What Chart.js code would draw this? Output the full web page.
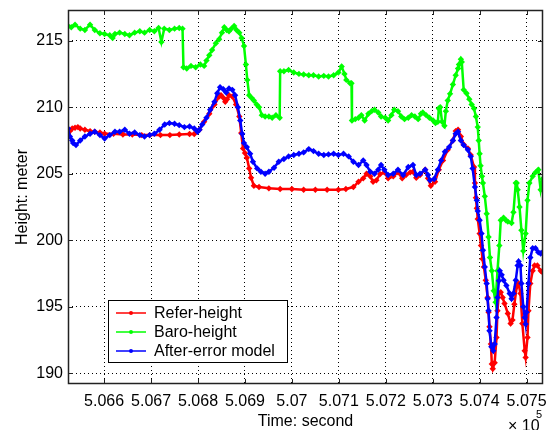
<!DOCTYPE html>
<html>
<head>
<meta charset="utf-8">
<script src="https://cdn.jsdelivr.net/npm/chart.js@4.4.0/dist/chart.umd.min.js"></script>
<style>
  html, body { margin: 0; padding: 0; background: #fff; }
  #wrap { width: 547px; height: 430px; }
</style>
</head>
<body>
<div id="wrap"><canvas id="c" width="547" height="430"></canvas></div>
<script>
/* ===== Dados (tempo em segundos, altura em metros) ===== */

const seriesNames = ['Refer-height', 'Baro-height', 'After-error model'];

const xTicks = [506600, 506700, 506800, 506900, 507000, 507100, 507200, 507300, 507400, 507500];
const xTickLabels = ['5.066', '5.067', '5.068', '5.069', '5.07', '5.071', '5.072', '5.073', '5.074', '5.075'];
const yTicks = [190, 195, 200, 205, 210, 215];

const referTime = [
  506523, 506527, 506532, 506538, 506544, 506549, 506559, 506570, 506580, 506591,
  506601, 506620, 506640, 506660, 506680, 506697, 506720, 506740, 506760, 506782,
  506792, 506803, 506813, 506824, 506835, 506845, 506849, 506854, 506858, 506862,
  506866, 506873, 506881, 506888, 506892, 506896, 506900, 506904, 506909, 506913,
  506919, 506930, 506951, 506975, 507000, 507025, 507050, 507075, 507099, 507115,
  507131, 507142, 507152, 507159, 507167, 507173, 507180, 507188, 507197, 507205,
  507216, 507226, 507235, 507243, 507252, 507258, 507265, 507273, 507284, 507290,
  507296, 507305, 507313, 507322, 507332, 507343, 507349, 507354, 507360, 507366,
  507375, 507381, 507388, 507390, 507392, 507394, 507396, 507400, 507403, 507406,
  507409, 507413, 507417, 507419, 507421, 507424, 507426, 507428, 507432, 507436,
  507438, 507441, 507445, 507449, 507453, 507460, 507466, 507470, 507474, 507479,
  507483, 507487, 507491, 507496, 507498, 507502, 507504, 507508, 507513, 507517,
  507523, 507530, 507534
];
const referHeight = [
  208.0, 208.2, 208.4, 208.45, 208.5, 208.4, 208.3, 208.2, 208.15, 208.1,
  208.0, 208.0, 207.95, 207.95, 207.9, 207.9, 207.9, 207.9, 207.95, 207.98,
  207.98, 208.3, 208.9, 209.5, 210.2, 210.8, 210.9, 210.7, 210.4, 210.6,
  210.9, 210.8, 210.2, 209.3, 208.05, 206.9, 206.55, 206.2, 205.4, 204.7,
  204.1, 204.0, 203.9, 203.85, 203.85, 203.8, 203.8, 203.8, 203.8, 203.85,
  204.0, 204.4, 204.65, 205.0, 204.8, 204.4, 204.5, 204.97, 205.1, 204.65,
  204.8, 205.1, 204.65, 204.9, 205.1, 205.15, 204.7, 204.9, 205.3, 204.65,
  204.1, 204.4, 205.3, 206.0, 206.8, 207.5, 208.2, 208.3, 207.8, 207.2,
  206.9, 206.4, 205.5, 204.3, 203.2, 202.4, 201.6, 200.5, 199.6, 198.6,
  198.0, 197.0, 195.7, 194.6, 193.5, 192.2, 190.7, 190.35, 190.8, 192.7,
  194.7, 196.0, 196.1, 195.7, 195.25, 194.5, 193.75, 194.0, 195.2, 196.5,
  196.75, 196.0, 193.75, 191.7, 191.2, 192.7, 194.7, 196.75, 197.7, 198.1,
  198.1, 197.7, 197.6
];

const baroTime = [
  506523, 506530, 506538, 506549, 506559, 506570, 506580, 506591, 506601, 506612,
  506618, 506623, 506633, 506644, 506654, 506665, 506676, 506686, 506697, 506707,
  506716, 506722, 506728, 506739, 506750, 506760, 506767, 506769, 506776, 506785,
  506795, 506805, 506813, 506818, 506824, 506830, 506838, 506845, 506851, 506856,
  506861, 506866, 506871, 506877, 506882, 506888, 506893, 506898, 506902, 506905,
  506909, 506914, 506919, 506925, 506930, 506936, 506943, 506951, 506958, 506966,
  506974, 506975, 506983, 506993, 507004, 507015, 507025, 507036, 507046, 507057,
  507068, 507078, 507089, 507099, 507106, 507112, 507116, 507124, 507127, 507128,
  507135, 507142, 507148, 507155, 507163, 507170, 507176, 507184, 507190, 507199,
  507205, 507212, 507218, 507226, 507233, 507240, 507248, 507255, 507262, 507269,
  507275, 507279, 507286, 507293, 507301, 507306, 507311, 507313, 507316, 507320,
  507325, 507328, 507332, 507337, 507343, 507349, 507354, 507356, 507360, 507362,
  507366, 507372, 507378, 507383, 507388, 507392, 507396, 507398, 507400, 507402,
  507405, 507407, 507411, 507415, 507419, 507422, 507426, 507430, 507434, 507438,
  507442, 507445, 507451, 507456, 507460, 507468, 507472, 507477, 507479, 507481,
  507485, 507489, 507493, 507498, 507502, 507506, 507513, 507519, 507525, 507530,
  507534
];
const baroHeight = [
  216.1, 216.0, 216.2, 215.9, 215.8, 216.2, 215.8, 215.55, 215.5, 215.4,
  215.2, 215.5, 215.6, 215.5, 215.4, 215.6, 215.7, 215.6, 215.8, 215.7,
  215.95, 214.9, 215.9, 215.8, 215.9, 215.95, 215.9, 213.0, 212.9, 213.1,
  213.0, 213.2, 213.1, 213.5, 213.9, 214.3, 214.8, 215.1, 215.6, 216.0,
  215.8, 215.7, 215.9, 216.1, 215.8, 215.6, 215.2, 214.6, 213.2, 212.05,
  210.9, 210.7, 210.5, 210.2, 210.0, 209.4, 209.3, 209.3, 209.2, 209.4,
  209.2, 212.7, 212.7, 212.8, 212.6, 212.5, 212.45, 212.4, 212.4, 212.3,
  212.35, 212.3, 212.4, 212.6, 213.05, 212.5, 212.05, 211.8, 211.8, 209.0,
  209.1, 209.2, 209.4, 209.0, 209.5, 209.7, 209.8, 209.6, 209.3, 209.2,
  209.0, 209.4, 209.8, 209.7, 209.3, 209.1, 209.2, 209.4, 209.3, 209.1,
  209.5, 209.6, 209.4, 209.2, 209.0, 208.8, 208.9, 209.9, 210.0, 208.9,
  208.6, 209.7, 210.5, 211.0, 211.7, 212.4, 212.9, 213.2, 213.6, 213.4,
  211.3, 211.05, 210.6, 210.2, 209.9, 209.3, 208.5, 207.5, 206.5, 205.6,
  204.8, 204.3, 203.3, 202.0, 200.25, 198.7, 197.7, 196.2, 195.35, 197.7,
  199.6, 201.5, 201.7, 201.5, 201.4, 201.3, 202.1, 204.3, 204.3, 203.8,
  202.5, 200.75, 199.2, 200.5, 203.0, 204.3, 204.8, 205.1, 205.3, 203.8,
  204.6
];

const afterTime = [
  506523, 506527, 506532, 506534, 506540, 506549, 506559, 506570, 506580, 506591,
  506601, 506612, 506623, 506633, 506644, 506654, 506665, 506676, 506686, 506697,
  506707, 506718, 506729, 506739, 506750, 506760, 506771, 506782, 506792, 506799,
  506803, 506809, 506818, 506826, 506835, 506841, 506847, 506854, 506860, 506866,
  506873, 506879, 506885, 506890, 506894, 506898, 506904, 506911, 506917, 506926,
  506934, 506943, 506951, 506962, 506972, 506983, 506993, 507004, 507015, 507025,
  507036, 507046, 507057, 507068, 507078, 507089, 507099, 507110, 507121, 507131,
  507142, 507152, 507159, 507167, 507176, 507184, 507190, 507197, 507205, 507216,
  507226, 507237, 507248, 507258, 507265, 507273, 507284, 507290, 507294, 507303,
  507311, 507318, 507326, 507335, 507343, 507349, 507354, 507360, 507366, 507375,
  507381, 507385, 507390, 507394, 507396, 507400, 507404, 507407, 507411, 507415,
  507417, 507419, 507421, 507425, 507429, 507432, 507436, 507438, 507441, 507443,
  507447, 507451, 507457, 507464, 507468, 507472, 507477, 507481, 507483, 507487,
  507489, 507493, 507496, 507498, 507500, 507504, 507508, 507513, 507519, 507525,
  507530, 507534
];
const afterHeight = [
  208.4, 207.8, 207.5, 207.3, 207.15, 207.5, 207.8, 208.0, 208.15, 207.9,
  207.65, 207.9, 208.15, 208.15, 208.3, 208.0, 208.1, 207.9, 207.8, 207.9,
  208.0, 208.3, 208.7, 208.8, 208.75, 208.65, 208.5, 208.55, 208.4, 208.15,
  208.3, 208.7, 209.2, 209.8, 210.4, 211.05, 211.5, 211.35, 211.1, 211.4,
  211.3, 210.9, 210.0, 209.0, 208.0, 207.3, 207.0, 206.5, 205.9, 205.4,
  205.15, 205.0, 205.15, 205.45, 205.9, 206.1, 206.3, 206.4, 206.5, 206.6,
  206.85, 206.7, 206.5, 206.4, 206.45, 206.5, 206.4, 206.5, 206.3, 205.9,
  205.65, 206.0, 205.65, 205.15, 205.0, 205.3, 205.65, 205.3, 204.9, 205.0,
  205.3, 204.9, 205.5, 205.65, 204.9, 205.0, 205.3, 204.9, 204.5, 204.6,
  205.3, 206.0, 206.65, 207.0, 207.5, 208.0, 208.15, 207.5, 207.15, 206.8,
  206.3, 205.4, 204.0, 203.0, 202.2, 201.5, 200.5, 199.25, 198.0, 196.75,
  195.6, 194.7, 193.2, 192.0, 191.7, 192.2, 194.2, 195.7, 196.95, 197.7,
  197.4, 197.0, 196.6, 196.0, 195.6, 196.0, 197.0, 198.1, 198.4, 198.1,
  196.75, 195.0, 194.2, 193.7, 194.6, 196.75, 198.7, 199.4, 199.4, 199.1,
  199.0, 199.1
];

/* ===== Configuração ===== */

const FONT = "'Liberation Sans', Arial, sans-serif";
Chart.defaults.font.family = FONT;
Chart.defaults.font.size = 16;
Chart.defaults.color = '#000';

function pts(t, h) {
  return t.map((v, i) => ({ x: v, y: h[i] }));
}

function makeDataset(label, data, color, order) {
  return {
    label: label,
    data: data,
    borderColor: color,
    backgroundColor: color,
    borderWidth: 2.5,
    pointStyle: 'rectRot',
    pointRadius: 3.2,
    pointBorderWidth: 0,
    pointBackgroundColor: color,
    tension: 0,
    order: order,
  };
}

// Moldura, ticks internos, legenda e expoente (estilo MATLAB)
const matlabFrame = {
  id: 'matlabFrame',
  afterDatasetsDraw(chart) {
    const ctx = chart.ctx;
    const { left, right, top, bottom } = chart.chartArea;
    const xs = chart.scales.x, ys = chart.scales.y;
    ctx.save();
    ctx.strokeStyle = '#222';
    ctx.lineWidth = 1.5;
    ctx.strokeRect(left + 0.5, top + 0.5, right - left - 1, bottom - top - 1);
    ctx.lineWidth = 1;
    ctx.beginPath();
    xTicks.forEach(v => {
      const px = Math.round(xs.getPixelForValue(v)) + 0.5;
      ctx.moveTo(px, bottom); ctx.lineTo(px, bottom - 5);
      ctx.moveTo(px, top); ctx.lineTo(px, top + 5);
    });
    yTicks.forEach(v => {
      const py = Math.round(ys.getPixelForValue(v)) + 0.5;
      ctx.moveTo(left, py); ctx.lineTo(left + 5, py);
      ctx.moveTo(right, py); ctx.lineTo(right - 5, py);
    });
    ctx.stroke();

    // Legenda
    const lx = 108, ly = 300, lw = 179, lh = 62;
    ctx.fillStyle = '#fff';
    ctx.fillRect(lx, ly, lw, lh);
    ctx.strokeStyle = '#000';
    ctx.strokeRect(lx + 0.5, ly + 0.5, lw, lh);
    ctx.font = '16px ' + FONT;
    ctx.textBaseline = 'middle';
    ctx.textAlign = 'left';
    chart.data.datasets.forEach((ds, i) => {
      const y = ly + 13 + i * 19;
      ctx.strokeStyle = ds.borderColor;
      ctx.lineWidth = 1.5;
      ctx.beginPath();
      ctx.moveTo(116, y); ctx.lineTo(146, y);
      ctx.stroke();
      ctx.fillStyle = ds.borderColor;
      ctx.beginPath();
      ctx.arc(131, y, 2, 0, Math.PI * 2);
      ctx.fill();
      ctx.fillStyle = '#000';
      ctx.fillText(ds.label, 154, y + 1);
    });

    // Expoente do eixo x
    ctx.fillStyle = '#000';
    ctx.textBaseline = 'alphabetic';
    ctx.font = '16px ' + FONT;
    ctx.fillText('\u00d7 10', 508, 431);
    ctx.font = '11px ' + FONT;
    ctx.fillText('5', 536, 418);
    ctx.restore();
  }
};

new Chart(document.getElementById('c'), {
  type: 'line',
  data: {
    datasets: [
      makeDataset(seriesNames[0], pts(referTime, referHeight), '#ff0000', 3),
      makeDataset(seriesNames[1], pts(baroTime, baroHeight), '#00ff00', 2),
      makeDataset(seriesNames[2], pts(afterTime, afterHeight), '#0000ff', 1),
    ]
  },
  options: {
    responsive: false,
    animation: false,
    devicePixelRatio: 1,
    layout: { padding: { top: 10, right: 1, left: 0, bottom: 0 } },
    plugins: {
      legend: { display: false },
      tooltip: { enabled: false },
    },
    scales: {
      x: {
        type: 'linear',
        min: 506523,
        max: 507535,
        afterBuildTicks: s => { s.ticks = xTicks.map(v => ({ value: v })); },
        afterFit: s => { s.height = 46; s.paddingLeft = 0; s.paddingRight = 0; },
        ticks: {
          autoSkip: false,
          maxRotation: 0,
          padding: 8,
          callback: (v) => xTickLabels[xTicks.indexOf(v)],
        },
        grid: { color: '#000', lineWidth: 1, drawTicks: false, borderDash: [1, 3] },
        border: { display: false, dash: [1, 3] },
        title: { display: true, text: 'Time: second', padding: { top: 0, bottom: -1 } },
      },
      y: {
        type: 'linear',
        min: 189.2,
        max: 217.3,
        afterBuildTicks: s => { s.ticks = yTicks.map(v => ({ value: v })); },
        afterFit: s => { s.width = 68; s.paddingTop = 0; s.paddingBottom = 0; },
        ticks: { padding: 5 },
        grid: { color: '#000', lineWidth: 1, drawTicks: false, borderDash: [1, 3] },
        border: { display: false, dash: [1, 3] },
        title: { display: true, text: 'Height: meter', padding: { top: 13, bottom: 0 } },
      }
    }
  },
  plugins: [matlabFrame]
});
</script>
</body>
</html>
